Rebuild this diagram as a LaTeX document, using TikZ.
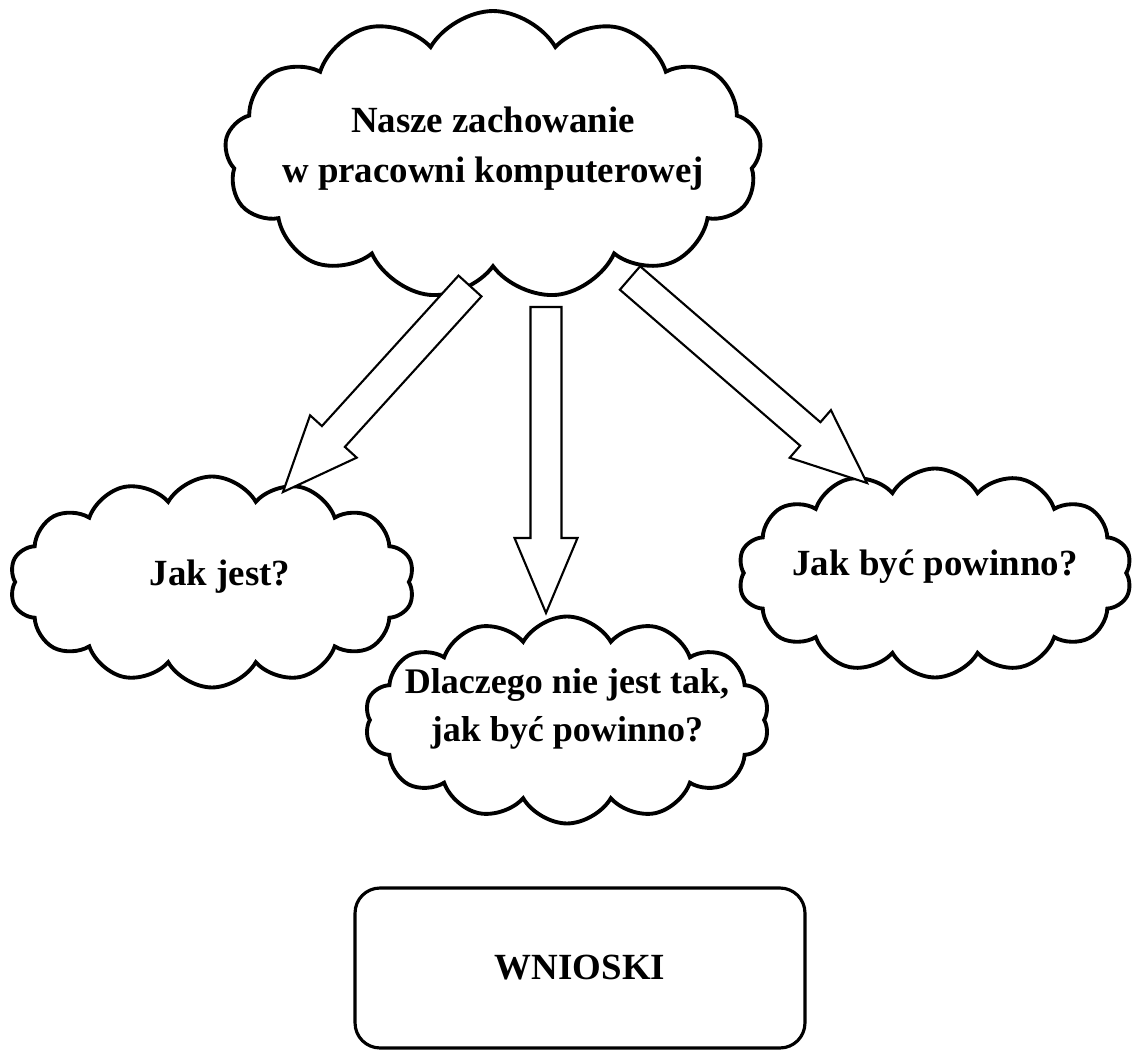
\documentclass[tikz,border=0pt]{standalone}
\usepackage{fontspec}
\setmainfont{Liberation Serif}
\usetikzlibrary{shapes.symbols,calc}
\newcommand{\blockarrow}[2]{%
  \coordinate (hb) at ($(#2)!1.5cm!(#1)$);
  \draw[arrowline] ($(#1)!0.31cm!90:(#2)$) -- ($(hb)!0.31cm!90:(#2)$) -- ($(hb)!0.63cm!90:(#2)$) -- (#2)
    -- ($(hb)!0.63cm!-90:(#2)$) -- ($(hb)!0.31cm!-90:(#2)$) -- ($(#1)!0.31cm!-90:(#2)$) -- cycle;}

\begin{document}
\begin{tikzpicture}[x=0.02cm,y=-0.02cm,every node/.style={font=\bfseries\fontsize{21}{28.5}\selectfont},
    cloudnode/.style={cloud,draw,fill=white,line width=2.2pt,cloud puffs=14,cloud puff arc=120,cloud ignores aspect,inner sep=0pt},
    txt/.style={align=center,inner sep=0pt},
    arrowline/.style={draw,fill=white,line width=1.2pt,line join=miter},
    endbox/.style={draw,line width=1.8pt,rounded corners=0.5cm,minimum width=9cm,minimum height=3.2cm}]
      \useasboundingbox (0,0) rectangle (1132,1050);
      \node[cloudnode,cloud puffs=13,minimum width=10.74cm,minimum height=5.76cm,label={[txt,yshift=0.12cm]center:{Nasze zachowanie\\w pracowni komputerowej}}] (main) at (493,155) {};
      \node[cloudnode,minimum width=8.1cm,minimum height=4.22cm,label={[txt,xshift=0.16cm,yshift=0.1cm]center:{Jak jest?}}] (jest) at (212,582) {};
      \node[cloudnode,minimum width=7.88cm,minimum height=4.18cm,label={[txt,yshift=0.12cm]center:{Jak być powinno?}}] (powinno) at (935,573) {};
      \node[cloudnode,minimum width=8.1cm,minimum height=4.14cm,label={[txt,yshift=0.22cm,font=\bfseries\fontsize{20.5}{27}\selectfont]center:{Dlaczego nie jest tak,\\jak być powinno?}}] (dlaczego) at (567,720) {};
      \node[endbox] (wnioski) at (580,968) {WNIOSKI};
      \coordinate (ls) at (470,286); \coordinate (lt) at (283,492);
      \coordinate (ms) at (546,307); \coordinate (mt) at (546,613);
      \coordinate (rs) at (630,278); \coordinate (rt) at (867,483);
      \blockarrow{ls}{lt}
      \blockarrow{ms}{mt}
      \blockarrow{rs}{rt}
    \end{tikzpicture}
\end{document}
